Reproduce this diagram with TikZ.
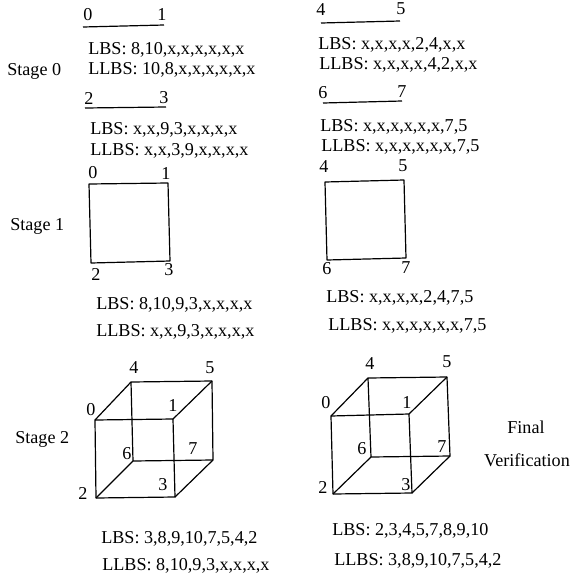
\documentclass[tikz,border=0pt]{standalone}
\usepackage{fontspec}
\setmainfont{Liberation Serif}
\tikzset{
  txt/.style={anchor=west,inner sep=0pt,yshift=-1.2pt,font=\fontsize{13.6}{16}\selectfont},
  num/.style={inner sep=0pt,font=\fontsize{13.6}{16}\selectfont},
  edge/.style={line width=0.9pt,line join=round}
}
\begin{document}
\begin{tikzpicture}[x=0.75pt,y=-0.75pt]
        \useasboundingbox(0,0)rectangle(571,579);
        % Stage 0
        \node[txt](s0)at(7,70){Stage 0};
        \coordinate(a0)at(83,27);
        \coordinate(a1)at(164,25);
        \draw[edge](a0)--(a1);
        \node[num](n0)at(88,15){0};
        \node[num](n1)at(162,15){1};
        \node[txt](lbsa)at(88,48){LBS: 8,10,x,x,x,x,x,x};
        \node[txt](llbsa)at(88,68){LLBS: 10,8,x,x,x,x,x,x};
        \coordinate(a2)at(85,108);
        \coordinate(a3)at(166,107);
        \draw[edge](a2)--(a3);
        \node[num](n2)at(89,98){2};
        \node[num](n3)at(164,98){3};
        \node[txt](lbsb)at(90,128){LBS: x,x,9,3,x,x,x,x};
        \node[txt](llbsb)at(90,149){LLBS: x,x,3,9,x,x,x,x};
        \coordinate(a4)at(321,23);
        \coordinate(a5)at(400,21);
        \draw[edge](a4)--(a5);
        \node[num](n4)at(321,10){4};
        \node[num](n5)at(401,9){5};
        \node[txt](lbsc)at(318,43){LBS: x,x,x,x,2,4,x,x};
        \node[txt](llbsc)at(319,63){LLBS: x,x,x,x,4,2,x,x};
        \coordinate(a6)at(323,103);
        \coordinate(a7)at(402,101);
        \draw[edge](a6)--(a7);
        \node[num](n6)at(323,93){6};
        \node[num](n7)at(402,92){7};
        \node[txt](lbsd)at(320,125){LBS: x,x,x,x,x,x,7,5};
        \node[txt](llbsd)at(321,145){LLBS: x,x,x,x,x,x,7,5};
        % Stage 1
        \node[txt](s1)at(10,225){Stage 1};
        \coordinate(b0)at(89,184);
        \coordinate(b1)at(168,183);
        \coordinate(b3)at(170,261);
        \coordinate(b2)at(91,263);
        \draw[edge](b0)--(b1)--(b3)--(b2)--cycle;
        \node[num](m0)at(93,173){0};
        \node[num](m1)at(166,174){1};
        \node[num](m2)at(96,274){2};
        \node[num](m3)at(169,270){3};
        \node[txt](lbse)at(96,303){LBS: 8,10,9,3,x,x,x,x};
        \node[txt](llbse)at(96,330){LLBS: x,x,9,3,x,x,x,x};
        \coordinate(b4)at(325,182);
        \coordinate(b5)at(404,180);
        \coordinate(b7)at(406,258);
        \coordinate(b6)at(327,260);
        \draw[edge](b4)--(b5)--(b7)--(b6)--cycle;
        \node[num](m4)at(324,167){4};
        \node[num](m5)at(403,166){5};
        \node[num](m6)at(327,269){6};
        \node[num](m7)at(406,268){7};
        \node[txt](lbsf)at(326,296){LBS: x,x,x,x,2,4,7,5};
        \node[txt](llbsf)at(328,324){LLBS: x,x,x,x,x,x,7,5};
        % Stage 2
        \node[txt](s2)at(15,438){Stage 2};
        \coordinate(c0)at(95,420);
        \coordinate(c1)at(173,419);
        \coordinate(c2)at(96,498);
        \coordinate(c3)at(175,497);
        \coordinate(c4)at(131,382);
        \coordinate(c5)at(212,381);
        \coordinate(c6)at(133,461);
        \coordinate(c7)at(213,460);
        \draw[edge](c0)--(c1)--(c3)--(c2)--cycle;
        \draw[edge](c4)--(c5)--(c7)--(c6)--cycle;
        \draw[edge](c0)--(c4);
        \draw[edge](c1)--(c5);
        \draw[edge](c2)--(c6);
        \draw[edge](c3)--(c7);
        \node[num](p0)at(91,410){0};
        \node[num](p1)at(173,406){1};
        \node[num](p2)at(83,493){2};
        \node[num](p3)at(163,485){3};
        \node[num](p4)at(134,368){4};
        \node[num](p5)at(210,368){5};
        \node[num](p6)at(127,454){6};
        \node[num](p7)at(193,449){7};
        \node[txt](lbsg)at(101,537){LBS: 3,8,9,10,7,5,4,2};
        \node[txt](llbsg)at(102,564){LLBS: 8,10,9,3,x,x,x,x};
        % Final
        \coordinate(d0)at(331,416);
        \coordinate(d1)at(409,414);
        \coordinate(d2)at(333,494);
        \coordinate(d3)at(412,493);
        \coordinate(d4)at(368,378);
        \coordinate(d5)at(447,377);
        \coordinate(d6)at(371,457);
        \coordinate(d7)at(450,456);
        \draw[edge](d0)--(d1)--(d3)--(d2)--cycle;
        \draw[edge](d4)--(d5)--(d7)--(d6)--cycle;
        \draw[edge](d0)--(d4);
        \draw[edge](d1)--(d5);
        \draw[edge](d2)--(d6);
        \draw[edge](d3)--(d7);
        \node[num](q0)at(326,403){0};
        \node[num](q1)at(407,403){1};
        \node[num](q2)at(323,487){2};
        \node[num](q3)at(406,485){3};
        \node[num](q4)at(370,364){4};
        \node[num](q5)at(447,362){5};
        \node[num](q6)at(362,449){6};
        \node[num](q7)at(442,447){7};
        \node[txt](lbsh)at(332,529){LBS: 2,3,4,5,7,8,9,10};
        \node[txt](llbsh)at(334,559){LLBS: 3,8,9,10,7,5,4,2};
        \node[num](final)at(526,427){Final};
        \node[num](verif)at(527,460){Verification};
\end{tikzpicture}
\end{document}
